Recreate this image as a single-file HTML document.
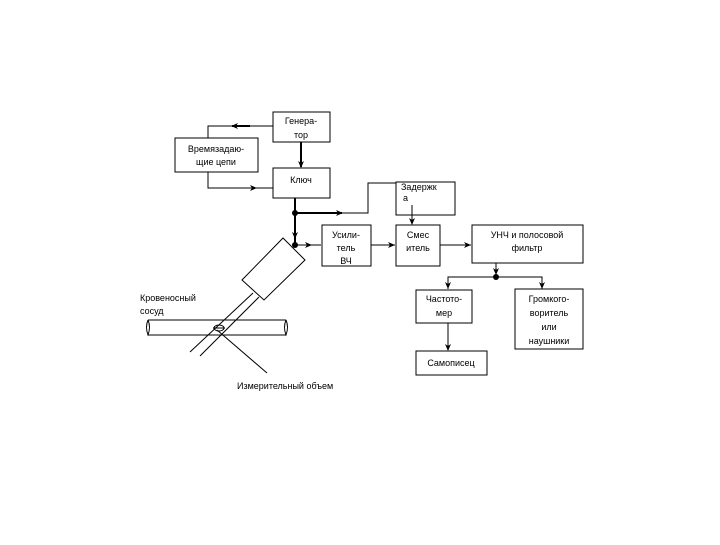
<!DOCTYPE html>
<html><head><meta charset="utf-8"><style>
html,body{margin:0;padding:0;background:#fff;}
svg text{font-family:"Liberation Sans","DejaVu Sans",sans-serif;font-size:9px;fill:#000;}
</style></head><body>
<svg width="720" height="540" viewBox="0 0 720 540" xmlns="http://www.w3.org/2000/svg">
<defs>
<marker id="a" markerWidth="8" markerHeight="8" refX="6" refY="3" orient="auto" markerUnits="userSpaceOnUse">
<path d="M0,0 L7,3 L0,6 L2,3 Z" fill="#000"/></marker>
</defs>
<g fill="none" stroke="#000" stroke-width="1">
<rect x="273" y="112" width="57" height="30"/>
<rect x="175" y="138" width="83" height="34"/>
<rect x="273" y="168" width="57" height="30"/>
<rect x="396" y="182" width="59" height="33"/>
<rect x="322" y="225" width="49" height="41"/>
<rect x="396" y="225" width="44" height="41"/>
<rect x="472" y="225" width="111" height="38"/>
<rect x="416" y="290" width="56" height="33"/>
<rect x="515" y="289" width="68" height="60"/>
<rect x="416" y="351" width="71" height="24"/>
<!-- generator -> vremya -->
<polyline points="273,126 208,126 208,138"/>
<line x1="250" y1="126" x2="232" y2="126" stroke-width="2" marker-end="url(#a)"/>
<!-- generator -> klyuch -->
<line x1="301" y1="142" x2="301" y2="167" stroke-width="2" marker-end="url(#a)"/>
<!-- vremya -> klyuch -->
<polyline points="208,172 208,188 273,188"/>
<line x1="240" y1="188" x2="256" y2="188" marker-end="url(#a)"/>
<!-- klyuch down -->
<line x1="295" y1="198" x2="295" y2="245" stroke-width="2"/>
<line x1="295" y1="225" x2="295" y2="238" stroke-width="2" marker-end="url(#a)"/>
<!-- to zaderzhka -->
<polyline points="295,213 368,213 368,183 396,183"/>
<line x1="295" y1="213" x2="342" y2="213" stroke-width="2" marker-end="url(#a)"/>
<!-- zaderzhka -> smes -->
<line x1="412" y1="215" x2="412" y2="224" marker-end="url(#a)"/>
<line x1="412" y1="205" x2="412" y2="224"/>
<!-- to usilitel -->
<line x1="295" y1="245" x2="321" y2="245"/>
<line x1="300" y1="245" x2="311" y2="245" marker-end="url(#a)"/>
<line x1="371" y1="245" x2="395" y2="245"/>
<line x1="380" y1="245" x2="394" y2="245" marker-end="url(#a)"/>
<line x1="440" y1="245" x2="471" y2="245"/>
<line x1="455" y1="245" x2="470" y2="245" marker-end="url(#a)"/>
<!-- UNCh down -->
<line x1="496" y1="263" x2="496" y2="277"/>
<line x1="496" y1="263" x2="496" y2="274" marker-end="url(#a)"/>
<polyline points="448,289 448,277 542,277 542,289"/>
<line x1="448" y1="279" x2="448" y2="288" marker-end="url(#a)"/>
<line x1="542" y1="279" x2="542" y2="288" marker-end="url(#a)"/>
<!-- chastotomer -> samopisets -->
<line x1="448" y1="323" x2="448" y2="350" marker-end="url(#a)"/>
<!-- probe -->
<polygon points="283,238 305,260 264,300 242,280"/>
<line x1="253" y1="293" x2="190" y2="352"/>
<line x1="259" y1="297" x2="200" y2="356"/>
<!-- vessel -->
<line x1="148" y1="320" x2="286" y2="320"/>
<line x1="148" y1="335" x2="286" y2="335"/>
<path d="M148,320 Q145,327 148,335 Q151,327 148,320"/>
<path d="M286,320 Q283,327 286,335 Q289,327 286,320"/>
<line x1="217" y1="330" x2="267" y2="373"/>
<ellipse cx="219" cy="328" rx="5" ry="3"/>
<line x1="213" y1="328" x2="225" y2="328"/>
</g>
<g fill="#000">
<circle cx="295" cy="213" r="3"/>
<circle cx="295" cy="245" r="3"/>
<circle cx="496" cy="277" r="3"/>
</g>
<g text-anchor="middle">
<text x="301" y="124">Генера-</text><text x="301" y="138">тор</text>
<text x="216" y="152">Времязадаю-</text><text x="216" y="165">щие цепи</text>
<text x="301" y="183">Ключ</text>
<text x="346" y="238">Усили-</text><text x="346" y="251">тель</text><text x="346" y="264">ВЧ</text>
<text x="418" y="238">Смес</text><text x="418" y="251">итель</text>
<text x="527" y="238">УНЧ и  полосовой</text><text x="527" y="251">фильтр</text>
<text x="444" y="302">Частото-</text><text x="444" y="316">мер</text>
<text x="549" y="302">Громкого-</text><text x="549" y="316">воритель</text><text x="549" y="330">или</text><text x="549" y="344">наушники</text>
<text x="451" y="366">Самописец</text>
</g>
<text x="401" y="190">Задержк</text><text x="403" y="201">а</text>
<text x="140" y="301">Кровеносный</text><text x="140" y="314">сосуд</text>
<text x="237" y="389">Измерительный объем</text>
</svg>
</body></html>
